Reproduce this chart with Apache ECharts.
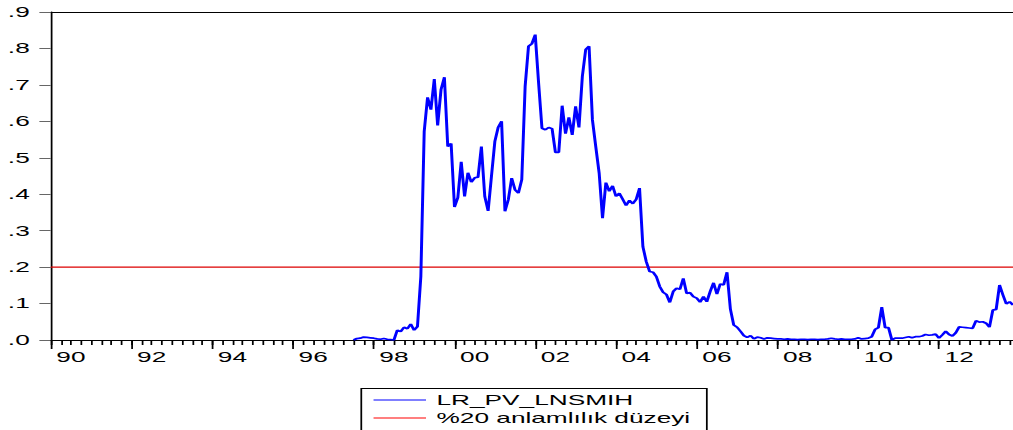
<!DOCTYPE html>
<html>
<head>
<meta charset="utf-8">
<script src="https://cdn.jsdelivr.net/npm/echarts@6/dist/echarts.min.js"></script>
<style>
  html, body { margin: 0; padding: 0; background: #fff; overflow: hidden; }
  /* EViews-style wide lettering: the chart is laid out narrow, then stretched horizontally */
  #chart { width: 579px; height: 430px; transform: scaleX(1.749568); transform-origin: 0 0; }
</style>
</head>
<body>
<div id="chart"></div>
<script>
// Monthly sample 1990M01 .. 2013M11
const firstYear = 1990;
const monthCount = 287;
const months = [];
for (let i = 0; i < monthCount; i++) {
  const y = firstYear + Math.floor(i / 12);
  const m = (i % 12) + 1;
  months.push(y + 'M' + (m < 10 ? '0' + m : m));
}

// LR_PV_LNSMIH, available from 1997M07 onward
const lrStart = '1997M07';
const lrValues = [
  0.000, 0.004, 0.005, 0.008, 0.007, 0.006, 0.005, 0.003, 0.002, 0.004, 0.002, 0.001, // 1997M07-1998M06
  0.000, 0.027, 0.023, 0.035, 0.031, 0.044, 0.027, 0.037, 0.174, 0.572, 0.666, 0.632, // 1998M07-1999M06
  0.716, 0.589, 0.687, 0.721, 0.531, 0.539, 0.365, 0.391, 0.489, 0.394, 0.459, 0.433, // 1999M07-2000M06
  0.445, 0.447, 0.531, 0.394, 0.354, 0.450, 0.545, 0.584, 0.600, 0.353, 0.385, 0.444, // 2000M07-2001M06
  0.412, 0.403, 0.440, 0.696, 0.806, 0.813, 0.838, 0.705, 0.581, 0.577, 0.583, 0.580, // 2001M07-2002M06
  0.515, 0.515, 0.643, 0.566, 0.611, 0.563, 0.641, 0.583, 0.723, 0.797, 0.806, 0.604, // 2002M07-2003M06
  0.530, 0.458, 0.334, 0.432, 0.408, 0.423, 0.394, 0.403, 0.386, 0.369, 0.383, 0.374, // 2003M07-2004M06
  0.386, 0.417, 0.256, 0.215, 0.188, 0.186, 0.174, 0.147, 0.131, 0.125, 0.103, 0.133, // 2004M07-2005M06
  0.142, 0.139, 0.169, 0.128, 0.130, 0.119, 0.115, 0.104, 0.119, 0.105, 0.133, 0.157, // 2005M07-2006M06
  0.126, 0.154, 0.151, 0.186, 0.085, 0.041, 0.035, 0.024, 0.012, 0.007, 0.012, 0.003, // 2006M07-2007M06
  0.008, 0.006, 0.003, 0.006, 0.005, 0.004, 0.003, 0.003, 0.002, 0.003, 0.002, 0.002, // 2007M07-2008M06
  0.001, 0.002, 0.002, 0.001, 0.002, 0.002, 0.001, 0.002, 0.002, 0.003, 0.005, 0.003, // 2008M07-2009M06
  0.002, 0.003, 0.002, 0.002, 0.002, 0.003, 0.006, 0.003, 0.004, 0.005, 0.009, 0.029, // 2009M07-2010M06
  0.034, 0.090, 0.034, 0.034, 0.000, 0.005, 0.005, 0.005, 0.007, 0.009, 0.006, 0.009, // 2010M07-2011M06
  0.009, 0.011, 0.015, 0.013, 0.014, 0.016, 0.005, 0.014, 0.024, 0.015, 0.011, 0.020, // 2011M07-2012M06
  0.036, 0.035, 0.034, 0.033, 0.032, 0.053, 0.049, 0.050, 0.046, 0.035, 0.082, 0.084, // 2012M07-2013M06
  0.151, 0.124, 0.099, 0.105, 0.096                                                  // 2013M07-2013M11
];

// %20 significance level
const levelValue = 0.2;

// Y tick labels in EViews style (.0 .. .9)
const yTicks = [0, 0.1, 0.2, 0.3, 0.4, 0.5, 0.6, 0.7, 0.8, 0.9];

const seriesNames = ['LR_PV_LNSMIH', '%20 anlamlılık düzeyi'];
const seriesColors = ['#0000ff', '#dd0000'];

const offset = months.indexOf(lrStart);
const lrData = months.map((_, i) => {
  const k = i - offset;
  return (k >= 0 && k < lrValues.length) ? lrValues[k] : null;
});
const levelData = [[months[0], levelValue], [months[months.length - 1], levelValue]];

const FONT = "'Liberation Sans', Arial, sans-serif";
const gridBox = { left: 29, right: 0, top: 12, bottom: 90 };

const chart = echarts.init(document.getElementById('chart'), null, { renderer: 'svg' });
chart.setOption({
  animation: false,
  backgroundColor: '#ffffff',
  grid: [
    Object.assign({ containLabel: false }, gridBox),
    Object.assign({ containLabel: false }, gridBox)
  ],
  xAxis: [
    {
      // quarterly ticks and two-year labels
      type: 'category', gridIndex: 0, position: 'bottom', data: months, boundaryGap: false,
      axisLine: { show: true, lineStyle: { color: '#000', width: 1 } },
      axisTick: { show: true, length: 5, interval: (i) => i % 3 === 0, lineStyle: { color: '#000', width: 1 } },
      axisLabel: {
        show: true, interval: (i) => i % 24 === 6, margin: 10,
        formatter: (v) => v.slice(2, 4),
        color: '#000', fontFamily: FONT, fontSize: 15
      },
      splitLine: { show: false }
    },
    {
      // frame line along the top
      type: 'category', gridIndex: 0, position: 'top', data: months, boundaryGap: false,
      axisLine: { show: true, lineStyle: { color: '#000', width: 1 } },
      axisTick: { show: false }, axisLabel: { show: false }, splitLine: { show: false }
    },
    {
      // long ticks every two years
      type: 'category', gridIndex: 1, position: 'bottom', data: months, boundaryGap: false,
      axisLine: { show: false },
      axisTick: { show: true, length: 9, interval: (i) => i % 24 === 0, lineStyle: { color: '#000', width: 1 } },
      axisLabel: { show: false }, splitLine: { show: false }
    }
  ],
  yAxis: [
    {
      type: 'value', gridIndex: 0, min: yTicks[0], max: yTicks[yTicks.length - 1], interval: 0.1,
      axisLine: { show: true, lineStyle: { color: '#000', width: 1 } },
      axisTick: { show: true, length: 6.5, lineStyle: { color: '#666', width: 1 } },
      axisLabel: {
        margin: 12, color: '#000', fontFamily: FONT, fontSize: 15,
        formatter: (v) => v.toFixed(1).replace(/^0/, '')
      },
      splitLine: { show: false }
    },
    {
      type: 'value', gridIndex: 1, min: yTicks[0], max: yTicks[yTicks.length - 1], show: false
    }
  ],
  // legend frame, open at the bottom edge of the page
  graphic: [{
    type: 'rect', left: 206, top: 388, silent: true, z: 0,
    shape: { width: 197.5, height: 60 },
    style: { fill: '#fff', stroke: '#000', lineWidth: 1 }
  }],
  legend: {
    orient: 'vertical', left: 213, top: 392.5,
    padding: 0, itemGap: 3,
    itemWidth: 30, itemHeight: 14,
    textStyle: { color: '#000', fontFamily: FONT, fontSize: 15, padding: [0, 0, 0, 1] },
    z: 5,
    data: [
      { name: seriesNames[0], itemStyle: { opacity: 0 }, lineStyle: { width: 1, color: '#0000ff', opacity: 1 } },
      { name: seriesNames[1], itemStyle: { opacity: 0 }, lineStyle: { width: 1, color: '#ff0000', opacity: 1 } }
    ]
  },
  series: [
    {
      name: seriesNames[0], type: 'line', xAxisIndex: 0, yAxisIndex: 0,
      data: lrData, showSymbol: false, symbol: 'none', connectNulls: false,
      color: seriesColors[0], itemStyle: { color: seriesColors[0] },
      lineStyle: { color: seriesColors[0], width: 1.7 }, z: 3
    },
    {
      name: seriesNames[1], type: 'line', xAxisIndex: 0, yAxisIndex: 0,
      data: levelData, showSymbol: false, symbol: 'none',
      color: seriesColors[1], itemStyle: { color: seriesColors[1] },
      lineStyle: { color: seriesColors[1], width: 1.3 }, z: 2
    }
  ]
});
</script>
</body>
</html>
